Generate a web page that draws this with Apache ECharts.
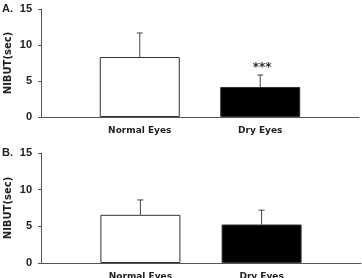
<!DOCTYPE html>
<html><head><meta charset="utf-8">
<script src="https://cdn.jsdelivr.net/npm/echarts@6/dist/echarts.min.js"></script>
<style>html,body{margin:0;padding:0;background:#fff}#c{width:362px;height:278px}</style>
</head><body><div id="c"></div>
<script>
var categories = ['Normal Eyes', 'Dry Eyes'];
var panelLabels = ['A.', 'B.'];
var meanA = [8.33, 4.17];
var errA = [11.67, 5.83];
var meanB = [6.57, 5.25];
var errB = [8.6, 7.2];
var sigA = ['', '***'];
var sigB = ['', ''];
var yTicks = [0, 5, 10, 15];
var yName = 'NIBUT(sec)';

var axisColor = '#555';
var font = 'DejaVu Sans';
var chart = echarts.init(document.getElementById('c'), null, {renderer: 'canvas'});

function xAxisDef(idx) {
  return {
    type: 'value', gridIndex: idx, min: -0.82, max: 1.82,
    axisLine: {show: true, onZero: false, lineStyle: {color: axisColor, width: 1}},
    axisTick: {show: false},
    splitLine: {show: false},
    axisLabel: {
      customValues: [0, 1], margin: 9,
      fontFamily: font, fontWeight: 'bold', fontSize: 9, color: '#222',
      formatter: function (v) { return categories[Math.round(v)]; }
    }
  };
}
function yAxisDef(idx) {
  return {
    type: 'value', gridIndex: idx, min: yTicks[0], max: yTicks[yTicks.length - 1], interval: 5,
    name: yName, nameLocation: 'middle', nameGap: 28, nameMoveOverlap: false,
    nameTextStyle: {fontFamily: font, fontWeight: 'bold', fontSize: 10, color: '#222'},
    axisLine: {show: true, onZero: false, lineStyle: {color: axisColor, width: 1}},
    axisTick: {show: true, length: 3, lineStyle: {color: axisColor}},
    splitLine: {show: false},
    axisLabel: {margin: 9, fontFamily: 'Liberation Sans', fontWeight: 'bold', fontSize: 11, color: '#222'}
  };
}
function barSeries(idx, means) {
  return {
    type: 'bar', xAxisIndex: idx, yAxisIndex: idx, barWidth: 80,
    data: means.map(function (m, i) {
      return {value: [i, m], itemStyle: {color: i === 0 ? '#fff' : '#000', borderColor: '#333', borderWidth: 1}};
    })
  };
}
function errSeries(idx, errs, sig) {
  return {
    type: 'custom', xAxisIndex: idx, yAxisIndex: idx, z: 1,
    data: errs.map(function (e, i) { return [i, e]; }),
    renderItem: function (params, api) {
      var i = api.value(0);
      var top = api.coord([i, api.value(1)]);
      var base = api.coord([i, (idx === 0 ? meanA : meanB)[i]]);
      var children = [
        {type: 'line', shape: {x1: top[0], y1: top[1], x2: base[0], y2: base[1]}, style: {stroke: '#444', lineWidth: 1}},
        {type: 'line', shape: {x1: top[0] - 3, y1: top[1], x2: top[0] + 3, y2: top[1]}, style: {stroke: '#444', lineWidth: 1}}
      ];
      if (sig[i]) {
        children.push({type: 'text', style: {text: sig[i], x: top[0] + 2, y: top[1] - 7,
          align: 'center', verticalAlign: 'middle', fontFamily: font, fontWeight: 'bold', fontSize: 12, fill: '#333'}});
      }
      return {type: 'group', children: children};
    }
  };
}

chart.setOption({
  animation: false,
  grid: [
    {left: 41, right: 3, top: 9, height: 108, containLabel: false, outerBoundsMode: 'none'},
    {left: 41, right: 1, top: 153, height: 110, containLabel: false, outerBoundsMode: 'none'}
  ],
  title: [
    {text: panelLabels[0], left: 2, top: 3, padding: 0, textStyle: {fontFamily: 'Liberation Sans', fontWeight: 'bold', fontSize: 11, color: '#222'}},
    {text: panelLabels[1], left: 2, top: 147, padding: 0, textStyle: {fontFamily: 'Liberation Sans', fontWeight: 'bold', fontSize: 11, color: '#222'}}
  ],
  xAxis: [xAxisDef(0), xAxisDef(1)],
  yAxis: [yAxisDef(0), yAxisDef(1)],
  series: [barSeries(0, meanA), errSeries(0, errA, sigA), barSeries(1, meanB), errSeries(1, errB, sigB)]
});
</script></body></html>
